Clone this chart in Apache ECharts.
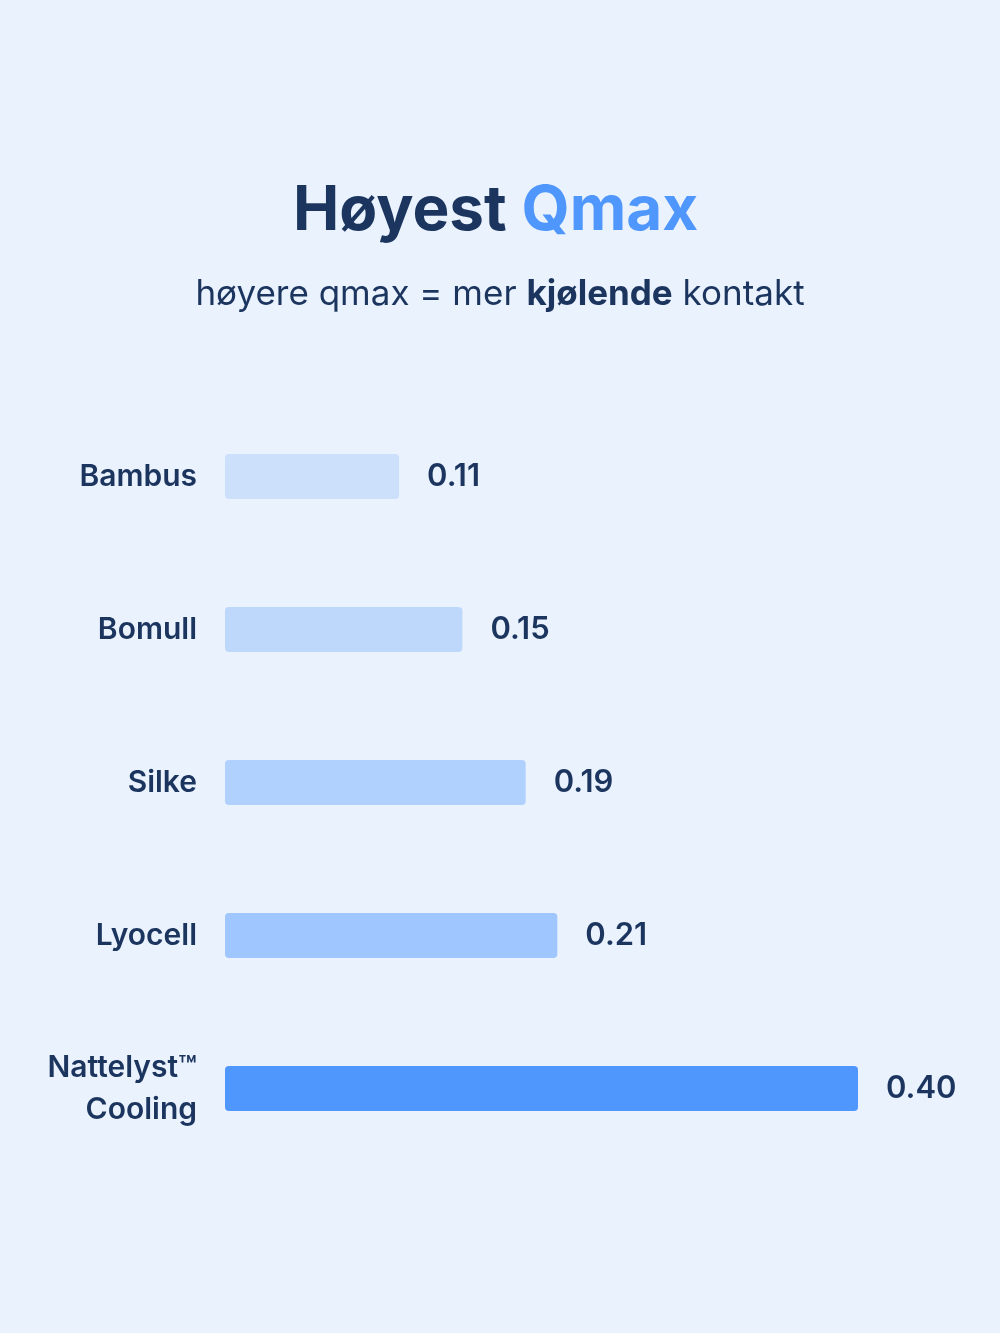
<!DOCTYPE html>
<html>
<head>
<meta charset="utf-8">
<script src="https://cdn.jsdelivr.net/npm/echarts@6/dist/echarts.min.js"></script>
<style>
html,body{margin:0;padding:0;background:#eaf2fd;}
#c{width:1000px;height:1333px;}
</style>
</head>
<body>
<div id="c"></div>
<script>
const categories = ['Bambus', 'Bomull', 'Silke', 'Lyocell', 'Nattelyst™\nCooling'];
const values = [0.11, 0.15, 0.19, 0.21, 0.40];
const barColors = ['#cce0fb', '#bed8fc', '#b0d0fd', '#9fc6fe', '#4f97fd'];

const navy = '#1b355e';
const FONT = 'Inter, "Noto Sans", sans-serif';

const chart = echarts.init(document.getElementById('c'), null, {renderer: 'canvas'});
chart.setOption({
  backgroundColor: '#eaf2fd',
  title: [
    {
      text: '{a|Høyest\u00a0}{b|Qmax}',
      left: 288,
      top: 175,
      textStyle: {
        rich: {
          a: {fontFamily: FONT, fontSize: 62, fontWeight: 700, color: navy},
          b: {fontFamily: FONT, fontSize: 62, fontWeight: 700, color: '#4f97fd'}
        }
      }
    },
    {
      text: '{n|høyere qmax = mer\u00a0}{b|kjølende}{n|\u00a0kontakt}',
      left: 'center',
      top: 272,
      textStyle: {
        rich: {
          n: {fontFamily: FONT, fontSize: 35, fontWeight: 400, color: navy},
          b: {fontFamily: FONT, fontSize: 35, fontWeight: 700, color: navy}
        }
      }
    }
  ],
  grid: {left: 225, right: 142, top: 400, bottom: 168, containLabel: false},
  xAxis: {
    type: 'value', min: 0, max: 0.40,
    show: false
  },
  yAxis: {
    type: 'category',
    data: categories,
    inverse: true,
    axisLine: {show: false},
    axisTick: {show: false},
    splitLine: {show: false},
    axisLabel: {
      margin: 28,
      fontFamily: FONT,
      fontSize: 30,
      fontWeight: 600,
      color: navy,
      align: 'right',
      lineHeight: 42
    }
  },
  series: [{
    type: 'bar',
    data: values.map((v, i) => ({value: v, itemStyle: {color: barColors[i]}})),
    barWidth: 45,
    itemStyle: {borderRadius: 4},
    label: {
      show: true,
      position: 'right',
      distance: 28,
      fontFamily: FONT,
      fontSize: 31,
      fontWeight: 600,
      color: navy,
      formatter: p => p.value.toFixed(2)
    },
    silent: true,
    animation: false
  }]
});
</script>
</body>
</html>
